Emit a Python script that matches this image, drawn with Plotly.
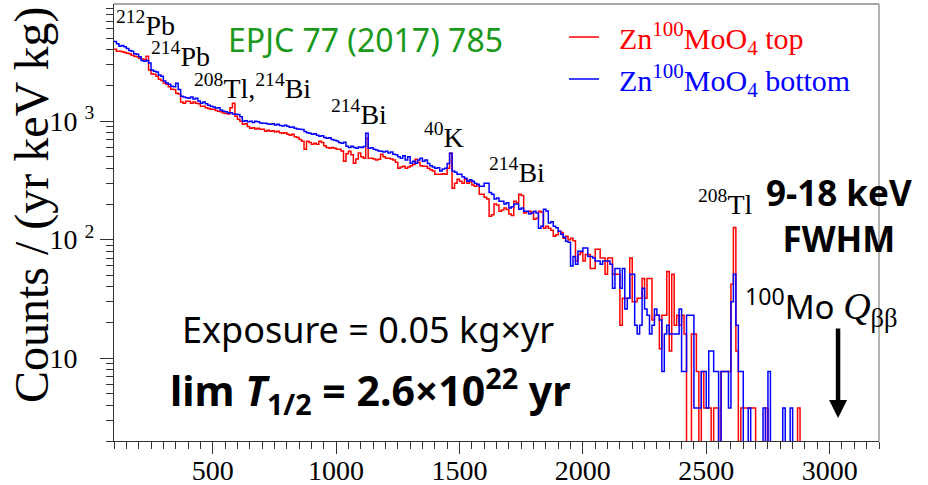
import plotly.graph_objects as go

# ---------------- data (10 keV bins starting at 100 keV) ----------------
bin_start = 100
bin_width = 10

blue_rows = [
    [4700, 4500, 4280, 4350, 4250, 4100, 3950, 3900, 3700, 3670],   # 100
    [3500, 3250, 3210, 3250, 3100, 2700, 2640, 2600, 2450, 2400],   # 200
    [2180, 2100, 2050, 1970, 1950, 2090, 1850, 1625, 1600, 1580],   # 300
    [1560, 1600, 1540, 1560, 1480, 1420, 1450, 1400, 1360, 1340],   # 400
    [1320, 1290, 1300, 1240, 1215, 1200, 1170, 1180, 1150, 1145],   # 500
    [1140, 1090, 1000, 1010, 990, 1000, 975, 1000, 990, 965],       # 600
    [960, 962, 945, 940, 950, 930, 943, 920, 910, 925],             # 700
    [907, 890, 895, 870, 860, 856, 850, 820, 800, 790],             # 800
    [777, 785, 760, 747, 755, 730, 719, 725, 700, 690],             # 900
    [680, 660, 652, 665, 615, 600, 615, 600, 592, 605],             # 1000
    [600, 612, 792, 592, 597, 580, 570, 560, 558, 550],             # 1100
    [558, 540, 550, 527, 520, 500, 487, 510, 470, 500],             # 1200
    [442, 460, 442, 470, 487, 460, 470, 440, 420, 410],             # 1300
    [401, 405, 380, 394, 401, 440, 537, 379, 370, 357],             # 1400
    [357, 340, 330, 311, 320, 311, 300, 294, 283, 283],             # 1500
    [300, 300, 250, 242, 220, 225, 211, 211, 200, 205],             # 1600
    [185, 190, 200, 200, 181, 185, 174, 174, 165, 168],             # 1700
    [174, 168, 125, 130, 181, 175, 138, 142, 130, 126],             # 1800
    [118, 111, 105, 97, 95, 60, 72, 62, 80, 80],                    # 1900
    [85, 85, 72, 72, 70, 66, 66, 62, 66, 66],                       # 2000
    [66, 62, 39, 57, 57, 39, 57, 26, 32, 51],                       # 2100
    [51, 19, 16, 19, 39, 26, 23, 16, 19, 26],                       # 2200
    [23, 21, 7.7, 16, 19, 16, 16, 16, 16, 26],                      # 2300
    [7.7, 7.7, 23, 23, 23, 3.8, 3.8, 3.8, 7.7, 7.7],                # 2400
    [3.8, 11.5, 11.5, 7.7, 7.7, 0, 7.7, 7.7, 7.7, 3.8],             # 2500
    [30, 51, 19, 7.7, 7.7, 0, 0, 3.8, 0, 0],                        # 2600
    [0, 0, 0, 3.8, 0, 7.7, 0, 0, 0, 0],                             # 2700
    [0, 3.8, 0, 0, 3.8, 0, 0, 0, 0, 0],                             # 2800
]

red_rows = [
    [4050, 3900, 3900, 3850, 3800, 3750, 3700, 3600, 3540, 3500],   # 100
    [3400, 3350, 3300, 3540, 2700, 2500, 2490, 2400, 2260, 2200],   # 200
    [2100, 2050, 1950, 1860, 1850, 1725, 1700, 1450, 1420, 1475],   # 300
    [1475, 1420, 1450, 1420, 1400, 1340, 1340, 1300, 1280, 1260],   # 400
    [1260, 1230, 1215, 1200, 1170, 1160, 1150, 1300, 1420, 1100],   # 500
    [1040, 1000, 940, 950, 900, 873, 880, 860, 870, 856],           # 600
    [856, 823, 840, 823, 830, 810, 823, 800, 790, 800],             # 700
    [777, 760, 777, 740, 730, 700, 678, 580, 678, 660],             # 800
    [640, 650, 640, 678, 660, 620, 600, 592, 600, 590],             # 900
    [580, 580, 560, 460, 530, 558, 520, 442, 480, 540],             # 1000
    [500, 487, 719, 487, 487, 480, 470, 478, 527, 500],             # 1100
    [487, 487, 480, 470, 450, 401, 410, 417, 400, 410],             # 1200
    [420, 430, 478, 450, 420, 417, 417, 400, 390, 380],             # 1300
    [357, 357, 357, 360, 357, 401, 537, 272, 300, 324],             # 1400
    [311, 300, 324, 300, 310, 290, 283, 290, 242, 242],             # 1500
    [228, 220, 158, 162, 200, 196, 174, 178, 185, 180],             # 1600
    [165, 160, 211, 205, 242, 236, 168, 172, 174, 170],             # 1700
    [149, 152, 174, 170, 125, 130, 125, 120, 107, 110],             # 1800
    [118, 115, 103, 107, 100, 103, 98, 66, 75, 78],                 # 1900
    [66, 75, 75, 57, 57, 83, 83, 70, 70, 51],                       # 2000
    [70, 70, 51, 51, 51, 19, 32, 32, 32, 70],                       # 2100
    [30, 30, 32, 32, 47, 32, 47, 47, 21, 23],                       # 2200
    [23, 12, 23, 23, 54, 11.5, 51, 19, 23, 19],                     # 2300
    [23, 16, 0, 0, 16, 16, 7.7, 0, 7.7, 3.8],                       # 2400
    [3.8, 3.8, 0, 3.8, 3.8, 0, 7.7, 7.7, 7.7, 7.7],                 # 2500
    [42, 127, 11.5, 0, 3.8, 3.8, 3.8, 3.8, 3.8, 3.8],               # 2600
    [0, 0, 0, 0, 3.8, 0, 0, 0, 0, 0],                               # 2700
    [0, 0, 0, 0, 0, 0, 0, 3.8, 0, 0],                               # 2800
]

y_tick_vals = [10, 100, 1000]
y_tick_text = ["10\u00a0<sup>\u00a0\u00a0</sup>", "10\u00a0<sup>2</sup>", "10\u00a0<sup>3</sup>"]
x_tick_vals = [500, 1000, 1500, 2000, 2500, 3000]
q_bb = 3034  # keV, 100Mo Q-value

# ---------------- build step histograms ----------------
def steps(rows):
    vals = [v for row in rows for v in row]
    vals = [v if v > 0 else 0.3 for v in vals]  # empty bins drop below log axis
    edges = [bin_start + i * bin_width for i in range(len(vals) + 1)]
    return edges, vals + [vals[-1]]

rx, ry = steps(red_rows)
bx, by = steps(blue_rows)

serif = "Liberation Serif"
sans = "Noto Sans"

fig = go.Figure()
fig.add_trace(go.Scatter(
    x=rx, y=ry, mode="lines", line=dict(color="#ff0000", width=1.5, shape="hv"),
    name='<span style="color:#ff0000">\u00a0\u00a0Zn<sup>100</sup>MoO<sub>4</sub> top</span>'))
fig.add_trace(go.Scatter(
    x=bx, y=by, mode="lines", line=dict(color="#0000ff", width=1.5, shape="hv"),
    name='<span style="color:#0000ff">\u00a0\u00a0Zn<sup>100</sup>MoO<sub>4</sub> bottom</span>'))

L, R, T, B = 114, 49, 4, 44
W, H = 928, 485
pw, ph = W - L - R, H - T - B

def px(x):
    return (x - L) / pw

def py(y):
    return (H - B - y) / ph

ylog0, ylog1 = 0.301, 3.989

def ylog(ypix):
    return ylog0 + (H - B - ypix) / ph * (ylog1 - ylog0)

minor_y = [m * 10 ** e for e in range(0, 4) for m in range(2, 10)]

fig.update_layout(
    width=W, height=H,
    margin=dict(l=L, r=R, t=T, b=B, autoexpand=False),
    paper_bgcolor="white", plot_bgcolor="white",
    showlegend=True,
    legend=dict(x=px(564), y=py(11), xanchor="left", yanchor="top",
                font=dict(family=serif, size=30, color="black"),
                bgcolor="rgba(0,0,0,0)", itemwidth=30, tracegroupgap=0),
    xaxis=dict(range=[100, 3200], tickvals=x_tick_vals, ticks="outside", ticklen=12,
               tickwidth=1, tickcolor="#333", showline=True, linecolor="#333", linewidth=1.3,
               showgrid=False, zeroline=False, automargin=False, ticklabelstandoff=-8,
               tickfont=dict(family=serif, size=28, color="black"),
               minor=dict(dtick=50, tick0=0, ticks="outside", ticklen=7, tickcolor="#333", tickwidth=1, showgrid=False)),
    yaxis=dict(type="log", range=[ylog0, ylog1], tickvals=y_tick_vals, ticktext=y_tick_text,
               ticks="outside", ticklen=13, tickwidth=1, tickcolor="#333", automargin=False,
               showline=True, linecolor="#333", linewidth=1.3, showgrid=False, zeroline=False,
               tickfont=dict(family=serif, size=28, color="black"),
               minor=dict(tickvals=minor_y, ticks="outside", ticklen=7, tickcolor="#333", tickwidth=1, showgrid=False)),
    shapes=[
        dict(type="line", xref="paper", yref="paper", x0=0, x1=1, y0=1, y1=1, line=dict(color="#8a8a8a", width=1.3)),
        dict(type="line", xref="paper", yref="paper", x0=1, x1=1, y0=0, y1=1, line=dict(color="#8a8a8a", width=1.3)),
    ],
)

ann = []
# y-axis title
ann.append(dict(text="Counts / (yr keV kg)", textangle=-90, xref="paper", yref="paper",
                x=px(32), y=py(205), xanchor="center", yanchor="middle", showarrow=False,
                font=dict(family=serif, size=48, color="black")))
# reference
ann.append(dict(text="EPJC 77 (2017) 785", xref="paper", yref="paper", x=px(365), y=py(40),
                xanchor="center", yanchor="middle", showarrow=False,
                font=dict(family=sans, size=32, color="#1a991a")))
# peak labels (left x, baseline y)
peaks = [("<sup>212</sup>Pb", 117, 34), ("<sup>214</sup>Pb", 152, 65),
         ("<sup>208</sup>Tl,<sup>214</sup>Bi", 195, 97), ("<sup>214</sup>Bi", 332, 123),
         ("<sup>40</sup>K", 425, 146), ("<sup>214</sup>Bi", 490, 181), ("<sup>208</sup>Tl", 699, 213)]
for t, x0, yb in peaks:
    ann.append(dict(text=t, xref="paper", yref="paper", x=px(x0 - 3), y=py(yb + 9),
                    xanchor="left", yanchor="bottom", showarrow=False,
                    font=dict(family=serif, size=28, color="black")))
# resolution
ann.append(dict(text="<b>9-18 keV<br>FWHM</b>", xref="paper", yref="paper", x=px(839), y=py(215),
                xanchor="center", yanchor="middle", showarrow=False, align="center",
                font=dict(family=sans, size=35, color="black")))
# Q value label
ann.append(dict(text='<sup>100</sup>Mo\u00a0<span style="font-family:Liberation Serif;font-size:38px"><i>Q</i><sub>ββ</sub></span>',
                xref="paper", yref="paper", x=px(743), y=py(306),
                xanchor="left", yanchor="middle", showarrow=False,
                font=dict(family=sans, size=33, color="black")))
# arrow at Q value
ann.append(dict(text="", x=q_bb, y=ylog(418), xref="x", yref="y",
                ax=q_bb, ay=ylog(327), axref="x", ayref="y",
                showarrow=True, arrowhead=2, arrowsize=0.8, arrowwidth=4.5, arrowcolor="black",
                standoff=0, startstandoff=0, font=dict(size=1)))
# exposure
ann.append(dict(text="Exposure = 0.05 kg×yr", xref="paper", yref="paper", x=px(180), y=py(329),
                xanchor="left", yanchor="middle", showarrow=False,
                font=dict(family=sans, size=36, color="black")))
ann.append(dict(text="<b>lim <i>T</i><sub>1/2</sub> = 2.6×10<sup>22</sup> yr</b>", xref="paper", yref="paper",
                x=px(168), y=py(390), xanchor="left", yanchor="middle", showarrow=False,
                font=dict(family=sans, size=41, color="black")))
fig.update_layout(annotations=ann)

fig.write_html("out.html")
